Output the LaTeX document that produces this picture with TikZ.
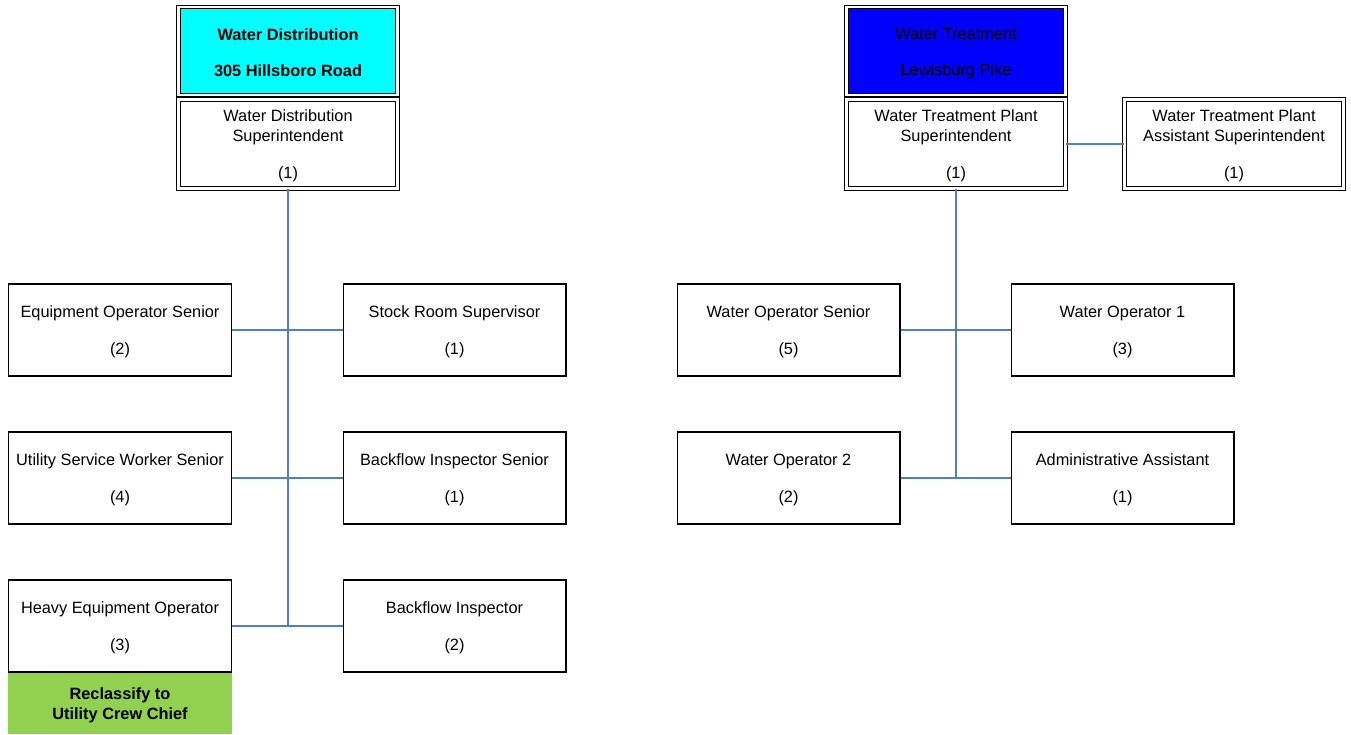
\documentclass[tikz,border=0pt]{standalone}
\usepackage{fontspec}
\setmainfont{Liberation Sans}
\definecolor{linkblue}{RGB}{79,129,189}
\definecolor{headcyan}{RGB}{0,255,255}
\definecolor{headblue}{RGB}{0,0,255}
\definecolor{reclass}{RGB}{146,208,80}
\newcommand{\topgap}{\rule{0pt}{9.1pt}}
\begin{document}
\begin{tikzpicture}
[
	x=0.02cm, y=-0.02cm,
	txt/.style={align=center,inner sep=0pt,font=\fontsize{9.3}{11.3}\selectfont},
	posbox/.style={txt,rectangle,draw,line width=0.6pt,fill=white,minimum width=4.46cm,minimum height=1.84cm},
	dbl/.style={txt,rectangle,draw,double,double distance=1.4pt,line width=0.6pt,minimum width=4.38cm},
	headbox/.style={dbl,minimum height=1.76cm},
	supbox/.style={dbl,fill=white,minimum height=1.78cm},
	link/.style={draw=linkblue,line width=0.8pt}
]
\useasboundingbox (0,0) rectangle (1351,734);

\node[headbox,fill=headcyan,font=\fontsize{9.3}{11.3}\selectfont\bfseries] (wdHead) at (288,51) {\topgap Water Distribution\\[9.1pt]305 Hillsboro Road};
\node[supbox] (wdSup) at (288,144) {\topgap Water Distribution\\Superintendent\\[9.7pt](1)};

\node[headbox,fill=headblue] (wtHead) at (956,51) {\topgap Water Treatment\\[9.1pt]Lewisburg Pike};
\node[supbox] (wtSup) at (956,144) {\topgap Water Treatment Plant\\Superintendent\\[9.7pt](1)};
\node[supbox] (wtAsst) at (1234,144) {\topgap Water Treatment Plant\\Assistant Superintendent\\[9.7pt](1)};

\node[txt,rectangle,fill=reclass,minimum width=4.48cm,minimum height=1.24cm,font=\fontsize{9.3}{11.3}\selectfont\bfseries] (reclass) at (120,703) {\topgap Reclassify to\\Utility Crew Chief};

\node[posbox] (eqOp) at (120,330) {\topgap Equipment Operator Senior\\[9.7pt](2)};
\node[posbox] (usw) at (120,478) {\topgap Utility Service Worker Senior\\[9.7pt](4)};
\node[posbox] (heavy) at (120,626) {\topgap Heavy Equipment Operator\\[9.7pt](3)};
\node[posbox] (stock) at (454.5,330) {\topgap Stock Room Supervisor\\[9.7pt](1)};
\node[posbox] (bfSen) at (454.5,478) {\topgap Backflow Inspector Senior\\[9.7pt](1)};
\node[posbox] (bf) at (454.5,626) {\topgap Backflow Inspector\\[9.7pt](2)};

\node[posbox] (woSen) at (788.5,330) {\topgap Water Operator Senior\\[9.7pt](5)};
\node[posbox] (wo2) at (788.5,478) {\topgap Water Operator 2\\[9.7pt](2)};
\node[posbox] (wo1) at (1122.5,330) {\topgap Water Operator 1\\[9.7pt](3)};
\node[posbox] (admin) at (1122.5,478) {\topgap Administrative Assistant\\[9.7pt](1)};

\draw[link] (wdSup.south) -- (wdSup.south |- heavy.east);
\draw[link] (eqOp.east) -- (stock.west);
\draw[link] (usw.east) -- (bfSen.west);
\draw[link] (heavy.east) -- (bf.west);

\draw[link] (wtSup.south) -- (wtSup.south |- wo2.east);
\draw[link] (wtSup.east) -- (wtAsst.west);
\draw[link] (woSen.east) -- (wo1.west);
\draw[link] (wo2.east) -- (admin.west);

\end{tikzpicture}
\end{document}
